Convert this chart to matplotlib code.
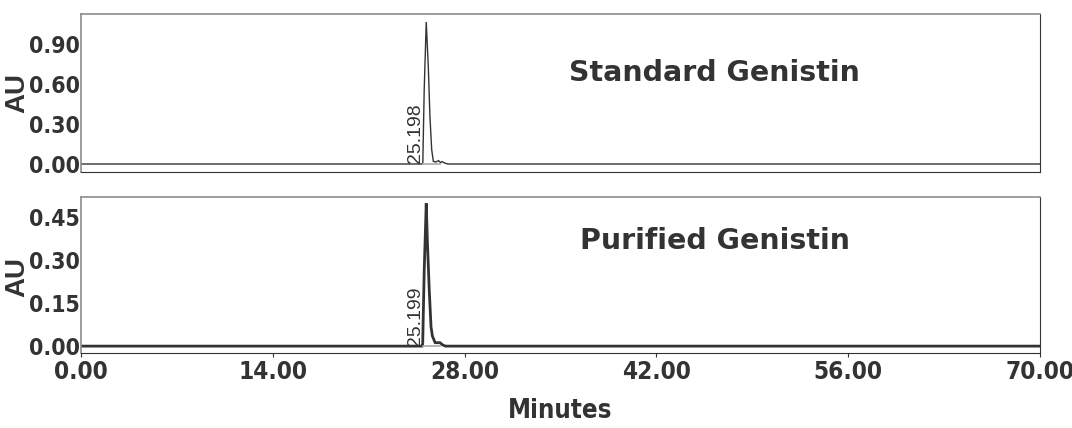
import matplotlib.pyplot as plt
from matplotlib import font_manager
from matplotlib.font_manager import FontProperties

# look for a narrow bold sans for the tick labels, like the instrument software uses
narrow = None
for f in font_manager.fontManager.ttflist:
    n = f.name + ' ' + f.fname
    if ('Narrow' in n or 'Condensed' in n or f.stretch in ('condensed', 'semi-condensed')) \
            and f.weight in ('bold', 700) and 'Mono' not in n and 'Serif' not in n:
        narrow = f.fname
        break

def tick_fp(size):
    if narrow:
        return FontProperties(fname=narrow, size=size)
    return FontProperties(family='Liberation Sans', weight='bold', size=size)

# chromatogram traces (minutes, AU)
std_time = [0.0, 24.90, 24.95, 25.05, 25.20, 25.35, 25.47, 25.60, 25.72, 25.90, 26.10, 26.25, 26.35, 26.60, 26.80, 70.0]
std_au = [0.0, 0.0, 0.01, 0.55, 1.065, 0.73, 0.355, 0.105, 0.02, 0.015, 0.025, 0.01, 0.018, 0.005, 0.0, 0.0]

pur_time = [0.0, 24.90, 24.94, 25.05, 25.20, 25.28, 25.42, 25.55, 25.65, 25.85, 26.20, 26.40, 26.60, 70.0]
pur_au = [0.0, 0.0, 0.005, 0.26, 0.498, 0.37, 0.195, 0.067, 0.035, 0.012, 0.012, 0.004, 0.0, 0.0]

std_rt = '25.198'
pur_rt = '25.199'
x_ticks = [0, 14, 28, 42, 56, 70]
std_yticks = [0.0, 0.30, 0.60, 0.90]
pur_yticks = [0.0, 0.15, 0.30, 0.45]

dark = '#333333'
grey = '#8c8c8c'
tsize = 16.5

fig = plt.figure(figsize=(10.72, 4.28), dpi=100)
ax1 = fig.add_axes([81/1072, 1 - 172/428, 959/1072, 158/428])
ax2 = fig.add_axes([81/1072, 1 - 353/428, 959/1072, 156/428])

panels = [
    (ax1, std_time, std_au, std_rt, std_yticks, (-0.06, 1.125), 'Standard Genistin', 1.0, 0.627, 0.50),
    (ax2, pur_time, pur_au, pur_rt, pur_yticks, (-0.024, 0.52), 'Purified Genistin', 2.0, 0.715, 0.49),
]

for ax, t, a, rt, yt, ylim, title, lw, ty, ly in panels:
    ax.plot(t, a, color=dark, lw=lw, solid_joinstyle='miter')
    ax.plot([24.94, 26.2], [0, 0], color='#aaaaaa', lw=1.2)
    ax.set_xlim(0, 70)
    ax.set_ylim(*ylim)
    ax.set_yticks(yt)
    ax.set_yticklabels(['%.2f' % v for v in yt])
    ax.set_xticks(x_ticks)
    ax.tick_params(axis='y', length=0, pad=1, labelcolor=dark)
    ax.tick_params(axis='x', length=3, direction='out', color=dark, labelcolor=dark, pad=2)
    for lab in ax.get_yticklabels() + ax.get_xticklabels():
        lab.set_fontproperties(tick_fp(tsize))
    for side in ['top', 'left']:
        ax.spines[side].set_color(grey)
        ax.spines[side].set_linewidth(1.2)
    ax.spines['bottom'].set_color(dark)
    ax.spines['right'].set_color(dark)
    ax.set_ylabel('AU', fontsize=20, fontweight='bold', color=dark, family='Liberation Sans')
    ax.yaxis.set_label_coords(-0.053, ly)
    ax.text(24.4, 0.004 * ylim[1], rt, rotation=90, ha='center', va='bottom',
            fontsize=14, color=dark, family='Liberation Sans')
    ax.text(0.661, ty, title, transform=ax.transAxes, ha='center', va='center',
            fontsize=20.5, fontweight='bold', color=dark, family='DejaVu Sans')

ax1.tick_params(axis='x', labelbottom=False, length=0)
ax2.set_xticklabels(['%.2f' % v for v in x_ticks])
for lab in ax2.get_xticklabels():
    lab.set_fontproperties(tick_fp(tsize + 1))
ax2.set_xlabel('Minutes', color=dark, labelpad=10, fontproperties=tick_fp(tsize + 2))

fig.savefig('out.png', dpi=100)
